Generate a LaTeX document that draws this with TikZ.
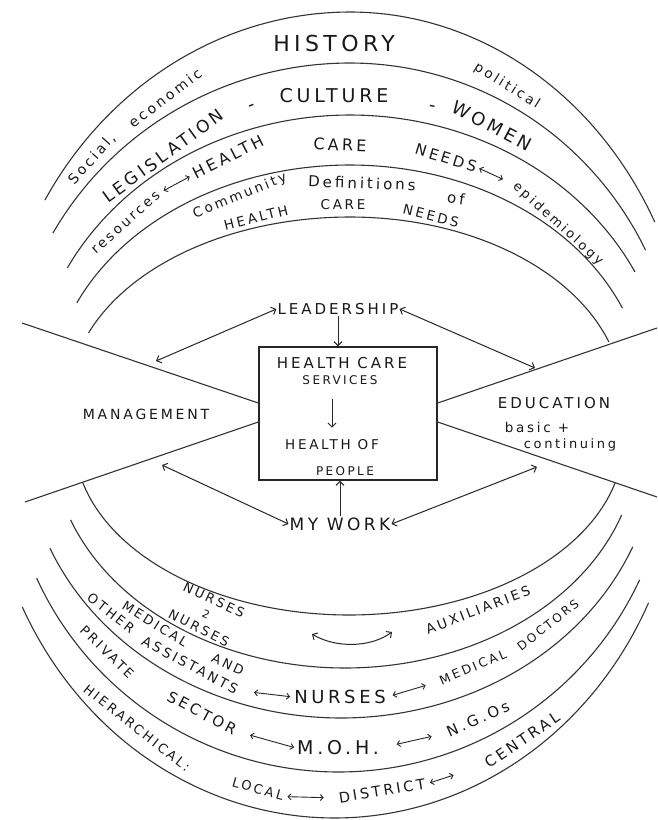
\documentclass[tikz,border=0pt]{standalone}
\usepackage{fontspec}
\newfontfamily\handfont[LetterSpace=20]{DejaVu Sans}
\usetikzlibrary{arrows.meta, positioning}
\tikzset{
  >={Straight Barb[length=4pt,width=8pt]},
  arcline/.style={draw=black!80, line width=1.1pt},
  crossline/.style={draw=black!80, line width=1.1pt},
  hbox/.style={draw=black!85, line width=1.4pt, minimum width=178pt,
               minimum height=133pt},
  harrow/.style={<->, draw=black!85, line width=1pt},
  downarrow/.style={->, draw=black!85, line width=1pt},
  warrow/.style={<->, >={Straight Barb[length=3pt,width=6pt]}, draw=black!85,
                 line width=0.9pt},
  hand/.style={font=\handfont\fontsize{#1}{#1}\selectfont, inner sep=1pt, text=black!90},
  hand/.default=14,
}

\begin{document}
\begin{tikzpicture}[x=1pt, y=-1pt]

  \fill[white] (0,0) rectangle (657,820);

  % upper arcs
  \foreach \aL/\aR/\b/\ta/\tb in {356/343/388/149/27.3, 342/330/337/150.3/26.4,
      319/319/285/152.4/26.7, 300/296/235/155.6/23, 281/273/183/158.5/18.5}
    \draw[arcline] plot[domain=\tb:\ta, samples=72, variable=\t, smooth]
      ({350+ifthenelse(\t>90,\aL,\aR)*cos(\t)}, {400-\b*sin(\t)});

  % lower arcs
  \foreach \cx/\a/\b/\ta/\tb in {349/274.5/175/194.2/345.8, 345/293/228/200.5/340.8,
      341/316/278/202.9/337.4, 338.5/332/332/204.6/335.1, 334.5/348/378/206.2/334.5}
    \draw[arcline] plot[domain=\ta:\tb, samples=72, variable=\t, smooth]
      ({\cx+\a*cos(\t)}, {440-\b*sin(\t)});

  % centre
  \node[hbox] (hcs) at (348,413.5) {};
  \coordinate (ulend) at (22,323);
  \coordinate (llend) at (25,502);
  \coordinate (urend) at (657,328);
  \coordinate (lrend) at (657,497);
  \draw[crossline] (ulend) -- ([yshift=10.5pt]hcs.west);
  \draw[crossline] (llend) -- ([yshift=-8.5pt]hcs.west);
  \draw[crossline] (urend) -- ([yshift=10.5pt]hcs.east);
  \draw[crossline] (lrend) -- ([yshift=-8.5pt]hcs.east);

  \node[hand=15] (hc) at (342,363) {HEALTH CARE};
  \node[hand=12] (svc) at (340,380) {SERVICES};
  \node[hand=13.5] (hop) at (332,445) {HEALTH OF};
  \node[hand=12] (ppl) at (345,471) {PEOPLE};

  \node[hand=15] (lead) at (338,309) {LEADERSHIP};
  \node[hand=14] (mgmt) at (146,414) {MANAGEMENT};
  \node[hand=15] (edu) at (554,403) {EDUCATION};
  \node[hand=13.5] (basic) at (537,427) {basic +};
  \node[hand=13] (cont) at (570,445) {continuing};
  \node[hand=17] (work) at (340,524) {MY WORK};

  \coordinate (lmu) at (156,361);
  \coordinate (rmu) at (535,368);
  \coordinate (lml) at (162,465);
  \coordinate (rml) at (537,467);
  \draw[harrow] (lead.west) -- (lmu);
  \draw[harrow] (lead.east) -- (rmu);
  \draw[harrow] (work.west) -- (lml);
  \draw[harrow] (work.east) -- (rml);
  \draw[downarrow] (lead.south) -- (lead.south |- hcs.north);
  \draw[downarrow] (work.north) -- (work.north |- hcs.south);
  \draw[downarrow, shorten <=13pt, shorten >=11pt] (svc.south -| hop.north) -- (hop.north);

  % upper bands
  \node[hand=14, rotate=48] (social) at (92,159) {Social,};
  \node[hand=14, rotate=37] (economic) at (165,98) {economic};
  \node[hand=22] (history) at (334,43) {HISTORY};
  \node[hand=13.5, rotate=-32] (political) at (507,86) {political};

  \node[hand=17, rotate=36] (legislation) at (163,156) {LEGISLATION};
  \node[hand=18, rotate=22] (dashl) at (252,108) {-};
  \node[hand=19] (culture) at (334,96) {CULTURE};
  \node[hand=18, rotate=-12] (dashr) at (432,108) {-};
  \node[hand=18, rotate=-28] (women) at (492,126) {WOMEN};

  \node[hand=13.5, rotate=42] (resources) at (126,223) {resources};
  \node[hand=16, rotate=27] (needsa) at (228,157) {HEALTH};
  \node[hand=16, rotate=-2] (needsb) at (340,145) {CARE};
  \node[hand=15, rotate=-17] (needsc) at (446,158) {NEEDS};
  \node[hand=13, rotate=-42] (epidemiology) at (558,224) {epidemiology};
  \draw[warrow, shorten <=5pt, shorten >=3pt] (resources.east) -- (needsa.west);
  \draw[warrow, shorten <=2pt, shorten >=12pt] (needsc.east) -- (epidemiology.west);

  \node[hand=13.5, rotate=22] (community) at (240,196) {Community};
  \node[hand=15, rotate=-2] (definitions) at (362,183) {Definitions};
  \node[hand=15, rotate=-8] (ofword) at (456,198) {of};
  \node[hand=13.5, rotate=14] (cneedsa) at (256,218) {HEALTH};
  \node[hand=13.5] (cneedsb) at (343,205) {CARE};
  \node[hand=13.5, rotate=-14] (cneedsc) at (431,216) {NEEDS};

  % lower bands
  \node[hand=13, rotate=-25] (nursesa) at (214,600) {NURSES};
  \node[hand=11, rotate=-25] (nursesto) at (206,614) {2};
  \node[hand=13, rotate=-27] (nursesb) at (199,628) {NURSES};
  \node[hand=13.5, rotate=21] (aux) at (478,610) {AUXILIARIES};
  \coordinate (auxl) at (312,634);
  \coordinate (auxr) at (392,632);
  \draw[harrow] (auxl) .. controls (335,648) and (370,648) .. (auxr);

  \node[hand=13, rotate=-32] (medical) at (155,624) {MEDICAL};
  \node[hand=13, rotate=-25] (andword) at (228,664) {AND};
  \node[hand=13, rotate=-38] (other) at (111,613) {OTHER};
  \node[hand=13.5, rotate=-28] (assistants) at (190,665) {ASSISTANTS};
  \node[hand=18] (nurses) at (340,697) {NURSES};
  \node[hand=12.5, rotate=23] (meddoca) at (473,667) {MEDICAL};
  \node[hand=12, rotate=38] (meddocb) at (548,625) {DOCTORS};
  \draw[warrow, shorten <=16pt, shorten >=3pt] (assistants.east) -- (nurses.west);
  \draw[warrow, shorten <=6pt, shorten >=14pt] (nurses.east) -- (meddoca.west);

  \node[hand=13, rotate=-44] (private) at (107,652) {PRIVATE};
  \node[hand=15, rotate=-28] (sector) at (202,713) {SECTOR};
  \node[hand=19] (moh) at (338,748) {M.O.H.};
  \node[hand=15, rotate=24] (ngos) at (478,719) {N.G.Os};
  \draw[warrow, shorten <=14pt, shorten >=2pt] (sector.east) -- (moh.west);
  \draw[warrow, shorten <=17pt, shorten >=15pt] (moh.east) -- (ngos.west);

  \node[hand=13, rotate=-38] (hier) at (137,728) {HIERARCHICAL:};
  \node[hand=13, rotate=-16] (local) at (258,789) {LOCAL};
  \node[hand=14.5, rotate=9] (district) at (382,791) {DISTRICT};
  \node[hand=15, rotate=34] (central) at (522,740) {CENTRAL};
  \draw[warrow, shorten <=3pt, shorten >=14pt] (local.east) -- (district.west);
  \draw[warrow, shorten <=4pt, shorten >=33pt] (district.east) -- (central.west);

\end{tikzpicture}
\end{document}
